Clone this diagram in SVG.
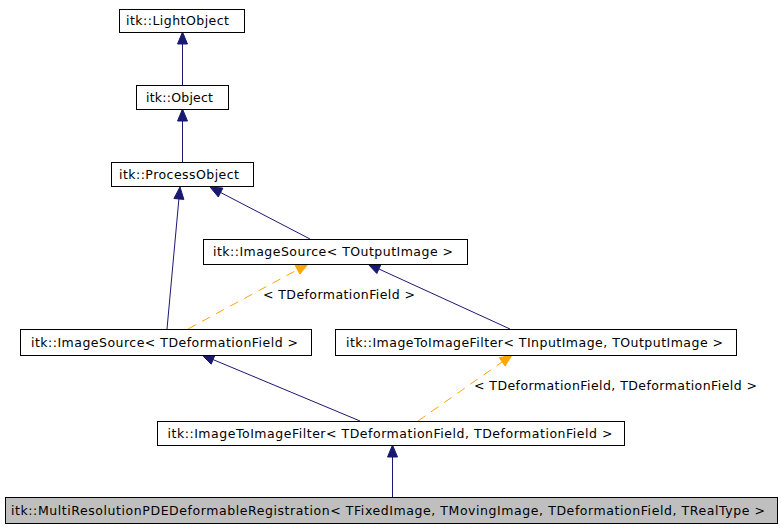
<svg xmlns="http://www.w3.org/2000/svg" width="781" height="528" viewBox="0 0 781 528">
<style>
  .box { fill: #ffffff; stroke: #000000; stroke-width: 1; }
  .grey { fill: #bfbfbf; }
  .lbl { font-family: "DejaVu Sans", "Liberation Sans", sans-serif; font-size: 12.5px; fill: #000000; }
  .inh { fill: none; stroke: #191970; stroke-width: 1; }
  .inhHead { fill: #191970; stroke: #191970; stroke-width: 1; }
  .tpl { fill: none; stroke: #ffa500; stroke-width: 1; stroke-dasharray: 9,7; }
  .tplHead { fill: #ffa500; stroke: #ffa500; stroke-width: 1; }
</style>
<rect width="781" height="528" fill="#ffffff"/>
<g id="connectors">
  <line class="inh" x1="182.5" y1="85" x2="182.5" y2="44"/>
  <polygon class="inhHead" points="182.5,32 177.5,44 187.5,44"/>
  <line class="inh" x1="182.5" y1="162" x2="182.5" y2="121"/>
  <polygon class="inhHead" points="182.5,109 177.5,121 187.5,121"/>
  <line class="inh" x1="167" y1="329" x2="178.9" y2="199"/>
  <polygon class="inhHead" points="180,187 183.9,199.4 173.9,198.5"/>
  <line class="inh" x1="310" y1="239" x2="220.6" y2="192.5"/>
  <polygon class="inhHead" points="210,187 222.9,188.1 218.3,197"/>
  <line class="inh" x1="510" y1="329" x2="378.9" y2="269"/>
  <polygon class="inhHead" points="368,264 381,264.5 376.8,273.5"/>
  <line class="tpl" x1="188" y1="329" x2="297.5" y2="269.7"/>
  <polygon class="tplHead" points="308,264 299.9,274.1 295.1,265.3"/>
  <line class="inh" x1="360" y1="421" x2="213.1" y2="359.6"/>
  <polygon class="inhHead" points="202,355 215,355 211.2,364.2"/>
  <line class="tpl" x1="418" y1="421" x2="502.2" y2="361.9"/>
  <polygon class="tplHead" points="512,355 505.1,366 499.3,357.8"/>
  <line class="inh" x1="392.5" y1="497" x2="392.5" y2="457"/>
  <polygon class="inhHead" points="392.5,445 387.5,457 397.5,457"/>
  <text class="lbl" x="263" y="299" textLength="152" lengthAdjust="spacing">&lt; TDeformationField &gt;</text>
  <text class="lbl" x="474" y="390" textLength="283" lengthAdjust="spacing">&lt; TDeformationField, TDeformationField &gt;</text>
</g>
<g id="LightObject">
  <rect class="box" x="119.5" y="9.5" width="125" height="23"/>
  <text class="lbl" x="126" y="25" textLength="103" lengthAdjust="spacing">itk::LightObject</text>
</g>
<g id="Object">
  <rect class="box" x="136.5" y="85.5" width="92" height="24"/>
  <text class="lbl" x="146" y="101.5" textLength="67" lengthAdjust="spacing">itk::Object</text>
</g>
<g id="ProcessObject">
  <rect class="box" x="111.5" y="162.5" width="142" height="24"/>
  <text class="lbl" x="119" y="178.5" textLength="120" lengthAdjust="spacing">itk::ProcessObject</text>
</g>
<g id="ImageSourceOutput">
  <rect class="box" x="203.5" y="239.5" width="264" height="25"/>
  <text class="lbl" x="213" y="256" textLength="240" lengthAdjust="spacing">itk::ImageSource&lt; TOutputImage &gt;</text>
</g>
<g id="ImageSourceDeformation">
  <rect class="box" x="20.5" y="329.5" width="291" height="26"/>
  <text class="lbl" x="31" y="346.5" textLength="267" lengthAdjust="spacing">itk::ImageSource&lt; TDeformationField &gt;</text>
</g>
<g id="ImageToImageFilterInOut">
  <rect class="box" x="335.5" y="329.5" width="401" height="26"/>
  <text class="lbl" x="346" y="346.5" textLength="377" lengthAdjust="spacing">itk::ImageToImageFilter&lt; TInputImage, TOutputImage &gt;</text>
</g>
<g id="ImageToImageFilterDeformation">
  <rect class="box" x="157.5" y="421.5" width="467" height="24"/>
  <text class="lbl" x="167.5" y="437.5" textLength="445" lengthAdjust="spacing">itk::ImageToImageFilter&lt; TDeformationField, TDeformationField &gt;</text>
</g>
<g id="MultiResolutionPDEDeformableRegistration">
  <rect class="box grey" x="5.5" y="497.5" width="772" height="26"/>
  <text class="lbl" x="11" y="514.5" textLength="754" lengthAdjust="spacing">itk::MultiResolutionPDEDeformableRegistration&lt; TFixedImage, TMovingImage, TDeformationField, TRealType &gt;</text>
</g>
</svg>
